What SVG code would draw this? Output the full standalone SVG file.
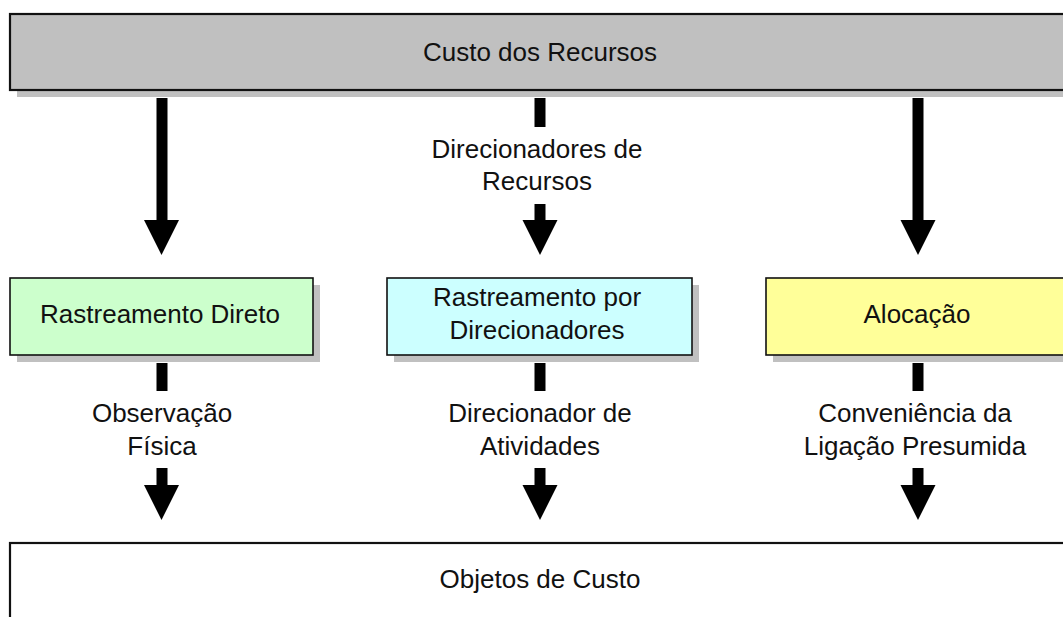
<svg xmlns="http://www.w3.org/2000/svg" width="1063" height="617" viewBox="0 0 1063 617">
<style>
  text { font-family: "Liberation Sans", Arial, sans-serif; font-size: 26px; fill: #111; text-anchor: middle; }
  .shadow { fill: #c0c0c0; stroke: none; }
  .box { stroke: #111; stroke-width: 1.6; }
  .big { stroke: #111; stroke-width: 2.2; }
  .arrow { fill: #000; stroke: none; }
</style>
<rect width="1063" height="617" fill="#ffffff"/>
<g id="custo-recursos">
  <rect class="shadow" x="17" y="21" width="1060" height="76"/>
  <rect class="big" x="10" y="14" width="1060" height="76" fill="#c0c0c0"/>
  <text x="540" y="61">Custo dos Recursos</text>
</g>
<g id="rastreamento-direto">
  <rect class="shadow" x="17" y="285" width="303" height="77"/>
  <rect class="box" x="10" y="278" width="303" height="77" fill="#ccffcc"/>
  <text x="160" y="323">Rastreamento Direto</text>
</g>
<g id="rastreamento-direcionadores">
  <rect class="shadow" x="394" y="285" width="305" height="77"/>
  <rect class="box" x="387" y="278" width="305" height="77" fill="#ccffff"/>
  <text x="537" y="306">Rastreamento por</text>
  <text x="537" y="339">Direcionadores</text>
</g>
<g id="alocacao">
  <rect class="shadow" x="773" y="285" width="300" height="77"/>
  <rect class="box" x="766" y="278" width="300" height="77" fill="#ffff99"/>
  <text x="917" y="323">Alocação</text>
</g>
<g id="objetos-custo">
  <rect class="big" x="10" y="543" width="1060" height="90" fill="#ffffff"/>
  <text x="540" y="588">Objetos de Custo</text>
</g>
<g id="connectors">
  <!-- top left -->
  <rect class="arrow" x="156.5" y="98" width="11" height="123"/>
  <polygon class="arrow" points="144,220 179,220 161.5,255"/>
  <!-- top middle -->
  <rect class="arrow" x="534.5" y="98" width="11" height="29"/>
  <rect class="arrow" x="534.5" y="204" width="11" height="17"/>
  <polygon class="arrow" points="522.5,220 557.5,220 540,255"/>
  <!-- top right -->
  <rect class="arrow" x="912.5" y="98" width="11" height="123"/>
  <polygon class="arrow" points="900.5,220 935.5,220 918,255"/>
  <!-- bottom left -->
  <rect class="arrow" x="156.5" y="363" width="11" height="28"/>
  <rect class="arrow" x="156.5" y="468" width="11" height="18"/>
  <polygon class="arrow" points="144,485 179,485 161.5,520"/>
  <!-- bottom middle -->
  <rect class="arrow" x="534.5" y="363" width="11" height="28"/>
  <rect class="arrow" x="534.5" y="468" width="11" height="18"/>
  <polygon class="arrow" points="522.5,485 557.5,485 540,520"/>
  <!-- bottom right -->
  <rect class="arrow" x="912.5" y="363" width="11" height="28"/>
  <rect class="arrow" x="912.5" y="468" width="11" height="18"/>
  <polygon class="arrow" points="900.5,485 935.5,485 918,520"/>
</g>
<g id="labels">
  <text x="537" y="158">Direcionadores de</text>
  <text x="537" y="190">Recursos</text>
  <text x="162" y="422">Observação</text>
  <text x="162" y="455">Física</text>
  <text x="540" y="422">Direcionador de</text>
  <text x="540" y="455">Atividades</text>
  <text x="915" y="422">Conveniência da</text>
  <text x="915" y="455">Ligação Presumida</text>
</g>
</svg>
